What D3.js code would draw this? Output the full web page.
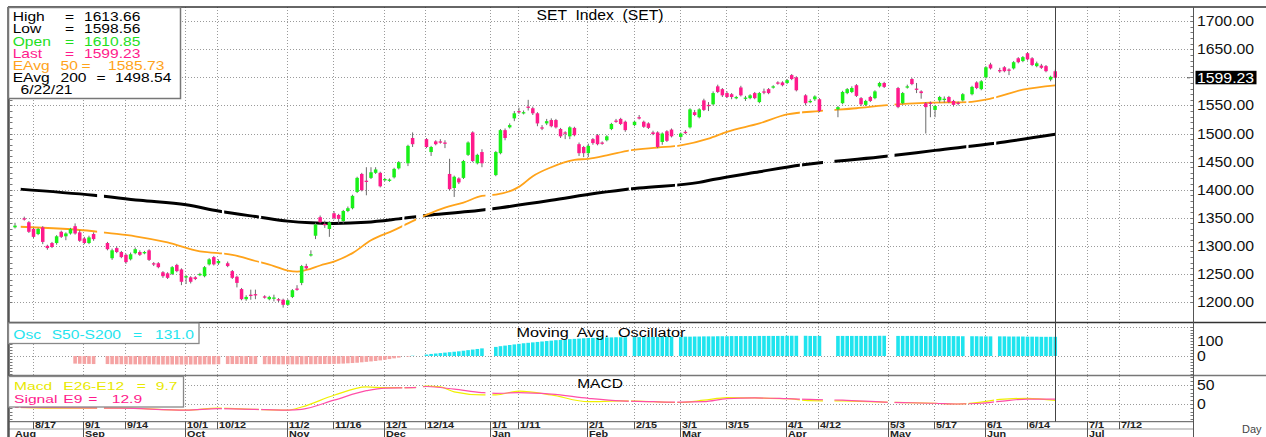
<!DOCTYPE html>
<html>
<head>
<meta charset="utf-8">
<script src="https://cdn.jsdelivr.net/npm/d3@7"></script>
<style>
  html, body { margin: 0; padding: 0; background: #fff; }
  svg { display: block; font-family: "Liberation Sans", Arial, sans-serif; }
</style>
</head>
<body>
<svg id="chart" width="1266" height="437"></svg>
<script>
// ---- data ----
const firstDay = "2020-08-11";
const lastDay = "2021-06-22";
const holidays = ["2020-08-12","2020-09-04","2020-09-07","2020-10-13","2020-10-23",
  "2020-12-07","2020-12-10","2020-12-11","2020-12-31","2021-01-01","2021-02-12",
  "2021-02-26","2021-04-06","2021-04-13","2021-04-14","2021-04-15","2021-05-03",
  "2021-05-04","2021-05-26","2021-06-03"];

// one row per trading day: [open, high, low, close]
const ohlc = [
  [1333,1341,1331,1336],[1349,1352,1345,1347],[1342,1344,1323,1325],
  [1330,1332,1314,1316],[1321,1332,1319,1330],[1333,1335,1303,1307],[1300,1302,1293,1296],[1305,1307,1296,1298],
  [1305,1319,1302,1317],[1325,1327,1314,1316],[1317,1324,1310,1322],[1322,1332,1320,1330],[1335,1340,1320,1322],
  [1324,1328,1307,1309],[1313,1316,1303,1305],[1305,1318,1303,1315],[1321,1324,1309,1312],
  [1305,1307,1292,1294],[1278,1295,1275,1292],[1296,1299,1287,1289],[1289,1291,1278,1280],
  [1284,1286,1268,1271],[1276,1288,1274,1285],[1287,1297,1285,1294],[1289,1292,1282,1284],[1287,1291,1285,1289],
  [1292,1294,1273,1275],[1269,1271,1264,1267],[1269,1271,1260,1262],[1253,1255,1243,1246],[1251,1253,1241,1243],
  [1250,1264,1248,1262],[1266,1268,1253,1255],[1258,1260,1230,1236],[1244,1248,1232,1246],[1244,1246,1233,1236],
  [1244,1246,1239,1241],[1248,1252,1246,1250],[1246,1264,1244,1262],[1267,1278,1265,1276],[1280,1282,1265,1267],
  [1269,1276,1266,1273],[1269,1272,1262,1264],[1255,1257,1241,1243],[1245,1247,1226,1234],
  [1223,1225,1203,1205],[1205,1212,1202,1209],[1213,1222,1204,1211],[1214,1222,1205,1212],
  [1210,1212,1206,1208],[1205,1211,1203,1209],[1206,1213,1201,1208],[1205,1207,1200,1203],[1204,1206,1190,1195],
  [1195,1205,1193,1203],[1209,1223,1207,1221],[1224,1230,1220,1222],[1234,1266,1230,1264],[1264,1268,1258,1260],
  [1283,1292,1281,1285],[1318,1341,1312,1338],[1351,1354,1340,1342],[1339,1345,1332,1337],[1330,1344,1316,1342],
  [1358,1362,1347,1349],[1355,1357,1340,1348],[1344,1364,1340,1362],[1362,1370,1360,1367],[1367,1391,1365,1389],
  [1396,1423,1394,1421],[1428,1430,1397,1399],[1416,1440,1390,1414],[1421,1440,1419,1431],[1430,1440,1428,1436],
  [1430,1432,1404,1406],[1417,1421,1415,1419],[1416,1420,1414,1418],[1422,1439,1420,1437],[1438,1451,1436,1449],
  [1447,1480,1442,1478],[1492,1502,1476,1481],
  [1490,1492,1474,1476],[1467,1478,1460,1476],[1486,1488,1479,1481],[1486,1490,1482,1484],[1484,1488,1474,1482],
  [1428,1455,1399,1401],[1403,1425,1387,1423],[1420,1422,1410,1413],[1421,1453,1419,1451],[1462,1486,1460,1484],
  [1502,1504,1449,1451],[1447,1464,1445,1462],[1467,1472,1440,1447],
  [1426,1469,1424,1467],[1465,1508,1463,1506],[1506,1509,1488,1492],[1511,1518,1509,1515],[1527,1540,1522,1536],
  [1540,1546,1535,1538],[1536,1541,1534,1538],[1548,1560,1541,1546],[1545,1548,1533,1536],[1536,1538,1513,1518],
  [1511,1515,1506,1509],[1518,1526,1515,1522],[1524,1527,1511,1513],[1524,1526,1509,1511],[1508,1510,1492,1495],
  [1502,1504,1490,1500],[1495,1513,1490,1511],[1510,1512,1495,1497],[1481,1484,1460,1465],[1476,1478,1458,1465],
  [1465,1482,1458,1478],[1490,1492,1480,1483],[1497,1499,1479,1481],[1484,1486,1480,1482],[1488,1497,1486,1495],
  [1508,1519,1506,1517],[1523,1526,1519,1521],[1526,1528,1515,1517],[1521,1523,1503,1506],
  [1515,1523,1513,1521],[1529,1533,1525,1527],[1521,1523,1510,1512],[1518,1520,1508,1510],[1502,1505,1497,1499],
  [1502,1504,1474,1476],[1485,1502,1480,1500],[1504,1506,1485,1487],[1507,1509,1493,1495],
  [1494,1502,1488,1500],[1503,1506,1499,1501],[1511,1545,1509,1543],[1538,1542,1531,1533],[1529,1545,1527,1543],
  [1559,1562,1540,1542],[1551,1556,1540,1549],[1552,1575,1550,1572],[1584,1587,1572,1574],[1579,1581,1565,1568],
  [1572,1575,1563,1565],[1570,1572,1561,1565],[1563,1567,1561,1565],[1582,1585,1566,1568],[1562,1567,1558,1564],
  [1563,1570,1561,1568],[1572,1574,1561,1563],[1556,1574,1554,1572],[1575,1580,1570,1573],[1579,1581,1570,1572],
  [1582,1586,1580,1584],[1591,1593,1587,1589],[1591,1593,1584,1586],[1590,1597,1588,1595],[1604,1606,1595,1597],
  [1600,1602,1575,1577],[1568,1570,1550,1554],[1556,1561,1554,1558],[1561,1568,1558,1566],
  [1561,1563,1538,1540],[1543,1549,1529,1547],
  [1554,1576,1552,1574],[1572,1581,1570,1579],[1574,1584,1572,1581],[1586,1588,1565,1567],[1563,1565,1549,1552],
  [1551,1560,1549,1558],[1565,1567,1556,1558],[1563,1577,1561,1575],[1584,1592,1582,1590],[1590,1592,1581,1583],
  [1581,1583,1545,1547],[1554,1574,1552,1572],[1582,1587,1580,1584],
  [1597,1599,1586,1588],[1580,1590,1572,1578],[1575,1577,1562,1572],[1554,1556,1500,1547],[1555,1557,1529,1553],
  [1542,1551,1529,1549],[1559,1567,1555,1565],[1560,1566,1555,1562],[1565,1567,1554,1556],[1558,1560,1548,1551],
  [1555,1557,1550,1553],[1559,1572,1557,1570],[1570,1585,1568,1583],[1591,1593,1579,1581],
  [1579,1595,1577,1593],[1600,1620,1598,1618],[1623,1626,1614,1616],[1613,1617,1608,1611],
  [1618,1620,1609,1611],[1614,1616,1604,1612],[1616,1629,1614,1627],[1634,1636,1625,1627],[1629,1638,1627,1636],
  [1643,1645,1630,1632],[1634,1636,1620,1622],[1620,1628,1618,1625],[1621,1624,1615,1617],[1620,1622,1609,1611],
  [1596,1603,1593,1601],[1610.85,1613.66,1598.56,1599.23]
];

// moving averages: [weekday slot from 2020-08-17, value]
const ema50Pts = [[-3,1334],[13,1326],[16,1323],[22,1317],[29,1306],[36,1290],[40,1287],[43,1284],
  [48,1273],[52,1264],[55,1256],[57,1254],[59,1257],[62,1265],[65,1272],[69,1287],[73,1310],[78,1328],
  [81,1340],[85,1355],[89,1368],[93,1377],[97,1389],[100,1391],[105,1405],[108,1424],[112,1440],
  [117,1453],[120,1455],[124,1461],[129,1470],[135,1475],[140,1479],[146,1491],[150,1503],[157,1518],
  [163,1534],[170,1540],[178,1545],[184,1550],[194,1555],[202,1556],[207,1562],[214,1578],[221,1585.73]];
const ema200Pts = [[-3,1401],[13,1390],[23,1381],[33,1373],[40,1362],[49,1351],[55,1344],[60,1341],
  [65,1340],[72,1342],[79,1348],[86,1355],[94,1361],[101,1368],[112,1381],[122,1394],[131,1403],
  [144,1413],[147,1418],[157,1432],[166,1444],[183,1458],[195,1470],[210,1485],[221,1498.54]];

// S50-S200 oscillator, one value per trading day (ends on the last day)
const oscValues = [
  -52,
  -53,-54,-54,-55,
  -55,-56,-56,-56,
  -56,-57,-57,-57,-57,
  -57,-57,-58,-58,-58,
  -58,-58,-58,-58,-58,
  -58,-58,-57,-57,-57,
  -56,-55,-55,-55,
  -55,-55,-55,-55,
  -56,-56,-56,-57,-57,
  -57,-57,-57,-57,-56,
  -56,-56,-55,-55,-55,
  -54,-53,-52,-50,-48,
  -46,-43,-40,-37,-34,
  -30,-26,-21,-16,-11,
  -4,2,
  10,14,17,20,23,
  26,29,32,36,40,
  44,48,52,
  62,67,71,75,79,
  83,87,90,93,96,
  99,102,105,108,110,
  113,115,117,119,121,
  123,124,125,126,127,
  127,128,128,128,
  129,129,129,130,130,
  130,130,131,131,
  131,132,132,133,133,
  134,134,134,135,135,
  135,136,136,136,136,
  136,136,137,137,137,
  137,137,137,138,138,
  138,138,137,137,
  137,137,
  137,137,137,137,137,
  137,137,137,138,138,
  137,137,137,
  137,137,137,136,136,
  136,136,136,136,136,
  135,135,135,135,
  134,134,134,134,
  134,133,133,133,133,
  132,132,132,131,131,
  131,131.0
];

const macdPts = [[-4,-9],[4,-11],[19,-11],[33,-16],[40,-11],[48,-14],[55,-16],[58,-8],[65,23],[72,45],
  [76,43],[82,43],[85,47],[88,45],[91,32],[97,24],[100,24],[105,34],[112,24],[120,6],[127,8],[134,6],
  [140,4],[145,10],[150,17],[156,16],[163,14],[168,9],[175,8],[184,5],[195,2],[200,0],[205,5],[209,12],
  [215,15],[221,9.7]];
const signalPts = [[-4,-9],[19,-11],[33,-16],[40,-12],[55,-16],[58,-14],[65,10],[72,35],[76,42],[82,43],
  [85,46],[91,39],[97,30],[100,28],[105,30],[112,26],[120,15],[127,8],[134,6],[140,5],[145,6],[150,14],
  [156,16],[163,14],[168,12],[175,10],[184,5],[195,2],[200,0],[205,2],[209,7],[215,13],[221,12.9]];

const tickDates = ["2020-08-17","2020-09-01","2020-09-14","2020-10-01","2020-10-12","2020-11-02",
  "2020-11-16","2020-12-01","2020-12-14","2021-01-01","2021-01-11","2021-02-01","2021-02-15",
  "2021-03-01","2021-03-15","2021-04-01","2021-04-12","2021-05-03","2021-05-17","2021-06-01",
  "2021-06-14","2021-07-01","2021-07-12"];
const tickLabels = ["8/17","9/1","9/14","10/1","10/12","11/2","11/16","12/1","12/14","1/1","1/11",
  "2/1","2/15","3/1","3/15","4/1","4/12","5/3","5/17","6/1","6/14","7/1","7/12"];
const monthDates = ["2020-09-01","2020-10-01","2020-11-02","2020-12-01","2021-01-01","2021-02-01",
  "2021-03-01","2021-04-01","2021-05-03","2021-06-01","2021-07-01"];
const monthLabels = ["Sep","Oct","Nov","Dec","Jan","Feb","Mar","Apr","May","Jun","Jul"];
const priceTicks = [1200,1250,1300,1350,1400,1450,1500,1550,1600,1650,1700];

// ---- layout ----
const L = 8, R = 1193, TOP = 7;
const MAIN_B = 322, OSC_T = 323, OSC_B = 375, MACD_T = 376, MACD_B = 421.7;
const C = { green: "#19f019", pink: "#ff1a8c", orange: "#ffa31a", cyan: "#1fe4ee",
  oscNeg: "#f5a3a3", yellow: "#f0f000", sig: "#ff4fa8", grid: "#9a9a9a" };

const parse = d3.utcParse("%Y-%m-%d");
const fmt = d3.utcFormat("%Y-%m-%d");
const base = parse("2020-08-17");
function slot(d) {
  const days = Math.round((d - base) / 864e5);
  const w = Math.floor(days / 7), r = days - w * 7;
  return w * 5 + Math.min(r, 5);
}
const hol = new Set(holidays);
const days = d3.utcDay.range(parse(firstDay), d3.utcDay.offset(parse(lastDay), 1))
  .filter(d => d.getUTCDay() % 6 !== 0 && !hol.has(fmt(d)));
if (days.length !== ohlc.length) console.error("rows", days.length, ohlc.length);

const candles = days.map((d, k) => ({ i: slot(d), o: ohlc[k][0], h: ohlc[k][1], l: ohlc[k][2], c: ohlc[k][3] }));
const oscStart = candles.length - oscValues.length;
const oscBars = oscValues.map((v, k) => ({ i: candles[oscStart + k].i, v }));

const xs = d3.scaleLinear().domain([0, 215]).range([33.5, 1027.5]);
const ys = d3.scaleLinear().domain([1200, 1700]).range([302, 21.2]);
const yo = d3.scaleLinear().domain([0, 200]).range([356, 326.7]);
const ym = d3.scaleLinear().domain([0, 50]).range([404, 385]);

const svg = d3.select("#chart");
const defs = svg.append("defs");

// clip lines to trading-day runs so holidays leave small gaps
const runs = [];
candles.forEach(c => {
  const last = runs[runs.length - 1];
  if (last && c.i === last[1] + 1) last[1] = c.i; else runs.push([c.i, c.i]);
});
defs.append("clipPath").attr("id", "trade").selectAll("rect").data(runs).join("rect")
  .attr("x", r => xs(r[0] - 0.5) - 1.2).attr("width", r => xs(r[1] + 0.5) - xs(r[0] - 0.5) + 2.4)
  .attr("y", 0).attr("height", 437);

function txt(g, x, y, s, o = {}) {
  return g.append("text")
    .attr("transform", `translate(${x},${y}) scale(${o.sx || 1.15},1)`)
    .attr("text-anchor", o.anchor || "start")
    .attr("font-size", o.size || 13)
    .attr("font-weight", o.weight || null)
    .attr("fill", o.color || "#000")
    .style("white-space", "pre")
    .text(s);
}

// ---- grid ----
const grid = svg.append("g").attr("stroke", C.grid).attr("stroke-width", 1).attr("stroke-dasharray", "1,2");
const tickX = tickDates.map(d => Math.round(xs(slot(parse(d)))) - 0.5);
[[TOP, MAIN_B], [OSC_T, OSC_B], [MACD_T, MACD_B]].forEach(([a, b]) => {
  grid.append("g").selectAll("line").data(tickX).join("line")
    .attr("x1", d => d).attr("x2", d => d).attr("y1", a).attr("y2", b);
});
grid.append("g").selectAll("line").data(priceTicks).join("line")
  .attr("x1", L).attr("x2", R).attr("y1", d => Math.round(ys(d)) + 0.5).attr("y2", d => Math.round(ys(d)) + 0.5);
[0, 200].forEach(v => grid.append("line").attr("x1", L).attr("x2", R)
  .attr("y1", Math.round(yo(v)) + 0.5).attr("y2", Math.round(yo(v)) + 0.5));
[0, 50].forEach(v => grid.append("line").attr("x1", L).attr("x2", R)
  .attr("y1", Math.round(ym(v)) + 0.5).attr("y2", Math.round(ym(v)) + 0.5));

// ---- moving averages ----
const line = (y) => d3.line().x(d => xs(d[0])).y(d => y(d[1])).curve(d3.curveMonotoneX);
const lines = svg.append("g").attr("clip-path", "url(#trade)").attr("fill", "none");
lines.append("path").attr("d", line(ys)(ema200Pts)).attr("stroke", "#000").attr("stroke-width", 3);
lines.append("path").attr("d", line(ys)(ema50Pts)).attr("stroke", C.orange).attr("stroke-width", 1.8);

// ---- candles ----
const cg = svg.append("g");
cg.selectAll("line").data(candles).join("line")
  .attr("x1", d => xs(d.i)).attr("x2", d => xs(d.i))
  .attr("y1", d => ys(d.h)).attr("y2", d => ys(d.l))
  .attr("stroke", "#6b6b6b").attr("stroke-width", 1);
cg.selectAll("rect").data(candles).join("rect")
  .attr("x", d => xs(d.i) - 1.75).attr("width", 3.5)
  .attr("y", d => ys(Math.max(d.o, d.c)))
  .attr("height", d => Math.max(1.3, Math.abs(ys(d.o) - ys(d.c))))
  .attr("fill", d => d.c >= d.o ? C.green : C.pink);

// ---- oscillator ----
svg.append("g").selectAll("rect").data(oscBars).join("rect")
  .attr("x", d => xs(d.i) - 1.8).attr("width", 3.6)
  .attr("y", d => Math.min(yo(0), yo(d.v)))
  .attr("height", d => Math.abs(yo(d.v) - yo(0)))
  .attr("fill", d => d.v >= 0 ? C.cyan : C.oscNeg);

// ---- MACD ----
const ml = svg.append("g").attr("clip-path", "url(#trade)").attr("fill", "none");
ml.append("path").attr("d", line(ym)(macdPts)).attr("stroke", C.yellow).attr("stroke-width", 1.2);
ml.append("path").attr("d", line(ym)(signalPts)).attr("stroke", C.sig).attr("stroke-width", 1.2);

// ---- frames ----
const fr = svg.append("g").attr("fill", "none");
fr.append("line").attr("x1", L).attr("x2", 1266).attr("y1", TOP).attr("y2", TOP).attr("stroke", "#333").attr("stroke-width", 1.5);
fr.append("line").attr("x1", L).attr("x2", 1266).attr("y1", 322.5).attr("y2", 322.5).attr("stroke", "#333").attr("stroke-width", 1.3);
fr.append("line").attr("x1", L).attr("x2", 1266).attr("y1", 375.5).attr("y2", 375.5).attr("stroke", "#777").attr("stroke-width", 1.5);
fr.append("line").attr("x1", L).attr("x2", R).attr("y1", MACD_B).attr("y2", MACD_B).attr("stroke", "#555");
fr.append("line").attr("x1", L).attr("x2", R).attr("y1", 429).attr("y2", 429).attr("stroke", "#999");
fr.append("line").attr("x1", 8.5).attr("x2", 8.5).attr("y1", TOP).attr("y2", 437).attr("stroke", "#555").attr("stroke-width", 2.5);
fr.append("line").attr("x1", R + 0.5).attr("x2", R + 0.5).attr("y1", TOP).attr("y2", 437).attr("stroke", "#555");
const lastX = Math.round(xs(candles[candles.length - 1].i)) + 0.5;
fr.append("line").attr("x1", lastX).attr("x2", lastX).attr("y1", TOP).attr("y2", MACD_B).attr("stroke", "#444");

// minor ticks on both edges
const minor = d3.range(1200, 1711, 10).filter(v => ys(v) > TOP + 2);
fr.append("g").selectAll("line").data(minor).join("line")
  .attr("x1", 10).attr("x2", 12.5).attr("y1", d => Math.round(ys(d)) + 0.5).attr("y2", d => Math.round(ys(d)) + 0.5)
  .attr("stroke", "#777");
fr.append("g").selectAll("line").data(minor).join("line")
  .attr("x1", R - 2.5).attr("x2", R).attr("y1", d => Math.round(ys(d)) + 0.5).attr("y2", d => Math.round(ys(d)) + 0.5)
  .attr("stroke", "#777");
const oscMinor = d3.range(-120, 321, 20).map(yo).filter(y => y > OSC_T + 1 && y < OSC_B - 1);
const macdMinor = d3.range(-40, 81, 10).map(ym).filter(y => y > MACD_T + 1 && y < MACD_B - 1);
[...oscMinor, ...macdMinor].forEach(y => {
  fr.append("line").attr("x1", 10).attr("x2", 12.5).attr("y1", Math.round(y) + 0.5).attr("y2", Math.round(y) + 0.5).attr("stroke", "#777");
  fr.append("line").attr("x1", R - 2.5).attr("x2", R).attr("y1", Math.round(y) + 0.5).attr("y2", Math.round(y) + 0.5).attr("stroke", "#777");
});

// ---- right axis labels ----
const ax = svg.append("g");
priceTicks.forEach(v => txt(ax, 1197, ys(v) + 5, v.toFixed(2), { size: 14, sx: 1.13, color: "#111" }));
const last = candles[candles.length - 1];
ax.append("rect").attr("x", 1195.5).attr("y", ys(last.c) - 7).attr("width", 61).attr("height", 13.5).attr("fill", "#000");
txt(ax, 1197, ys(last.c) + 5, last.c.toFixed(2), { size: 14, sx: 1.13, color: "#fff" });
ax.append("line").attr("x1", 1187).attr("x2", 1190).attr("y1", ys(last.c)).attr("y2", ys(last.c)).attr("stroke", "#555");
txt(ax, 1197, yo(100) + 5, "100", { size: 14, sx: 1.13, color: "#111" });
txt(ax, 1197, yo(0) + 5, "0", { size: 14, sx: 1.13, color: "#111" });
txt(ax, 1197, ym(50) + 5, "50", { size: 14, sx: 1.13, color: "#111" });
txt(ax, 1197, ym(0) + 5, "0", { size: 14, sx: 1.13, color: "#111" });

// ---- date axis ----
const da = svg.append("g");
da.selectAll("line.t").data(tickX).join("line").attr("class", "t")
  .attr("x1", d => d).attr("x2", d => d).attr("y1", MACD_B).attr("y2", 429).attr("stroke", "#555");
const monthX = monthDates.map(d => Math.round(xs(slot(parse(d)))) - 0.5);
da.selectAll("line.m").data(monthX).join("line").attr("class", "m")
  .attr("x1", d => d).attr("x2", d => d).attr("y1", 429).attr("y2", 437).attr("stroke", "#555");
tickLabels.forEach((s, k) => txt(da, tickX[k] + 1.5, 428, s, { size: 9, weight: "bold", sx: 1.2, color: "#222" }));
monthLabels.forEach((s, k) => txt(da, monthX[k] + 1.5, 436.5, s, { size: 9, weight: "bold", sx: 1.2, color: "#222" }));
txt(da, 15, 436.5, "Aug", { size: 9, weight: "bold", sx: 1.2, color: "#222" });
txt(da, 1242, 433, "Day", { size: 10, sx: 1.1, color: "#444" });

// ---- titles ----
txt(svg, 600, 20, "SET  Index  (SET)", { size: 14, sx: 1.12, anchor: "middle" });
txt(svg, 601, 337, "Moving  Avg.  Oscillator", { size: 13.5, sx: 1.2, anchor: "middle" });
txt(svg, 600, 388, "MACD", { size: 13.5, sx: 1.15, anchor: "middle" });

// ---- legends ----
const lg = svg.append("g");
lg.append("rect").attr("x", 8.5).attr("y", 7.5).attr("width", 172).attr("height", 91)
  .attr("fill", "#fff").attr("stroke", "#777").attr("stroke-width", 1.5);
const e50 = ema50Pts[ema50Pts.length - 1][1], e200 = ema200Pts[ema200Pts.length - 1][1];
const rows = [
  ["#000", [[12.7, "High"], [65, "="], [84, last.h.toFixed(2)]]],
  ["#000", [[12.7, "Low"], [65, "="], [84, last.l.toFixed(2)]]],
  ["#1ee01e", [[12.7, "Open"], [65, "="], [84, last.o.toFixed(2)]]],
  ["#ff1a8c", [[12.7, "Last"], [65, "="], [84, last.c.toFixed(2)]]],
  [C.orange, [[12.7, "EAvg"], [60.5, "50"], [81.5, "="], [108, e50.toFixed(2)]]],
  ["#000", [[12.7, "EAvg"], [60.5, "200"], [96.5, "="], [115, e200.toFixed(2)]]],
  ["#000", [[20.5, "6/22/21"]]]
];
rows.forEach(([col, parts], k) => parts.forEach(([x, s]) =>
  txt(lg, x, 21.2 + k * 12.2, s, { size: 12, sx: 1.3, color: col })));

lg.append("rect").attr("x", 8.5).attr("y", 323).attr("width", 190.5).attr("height", 20.5)
  .attr("fill", "#fff").attr("stroke", "#888").attr("stroke-width", 1.3);
const oscLast = oscValues[oscValues.length - 1];
[[13.3, "Osc"], [51.7, "S50-S200"], [133, "="], [155, oscLast.toFixed(1)]]
  .forEach(([x, s]) => txt(lg, x, 339, s, { size: 13, sx: 1.2, color: "#1fe4ee" }));

lg.append("rect").attr("x", 8.5).attr("y", 376.5).attr("width", 175).attr("height", 30.5)
  .attr("fill", "#fff").attr("stroke", "#888").attr("stroke-width", 1.3);
const mLast = macdPts[macdPts.length - 1][1], sLast = signalPts[signalPts.length - 1][1];
[[14, "Macd"], [63.3, "E26-E12"], [136.7, "="], [155.7, mLast.toFixed(1)]]
  .forEach(([x, s]) => txt(lg, x, 390.3, s, { size: 11.5, sx: 1.36, color: "#e8e800" }));
[[14, "Signal"], [63.3, "E9"], [88.3, "="], [111.7, sLast.toFixed(1)]]
  .forEach(([x, s]) => txt(lg, x, 402.5, s, { size: 11.5, sx: 1.36, color: "#ff1a8c" }));
</script>
</body>
</html>
